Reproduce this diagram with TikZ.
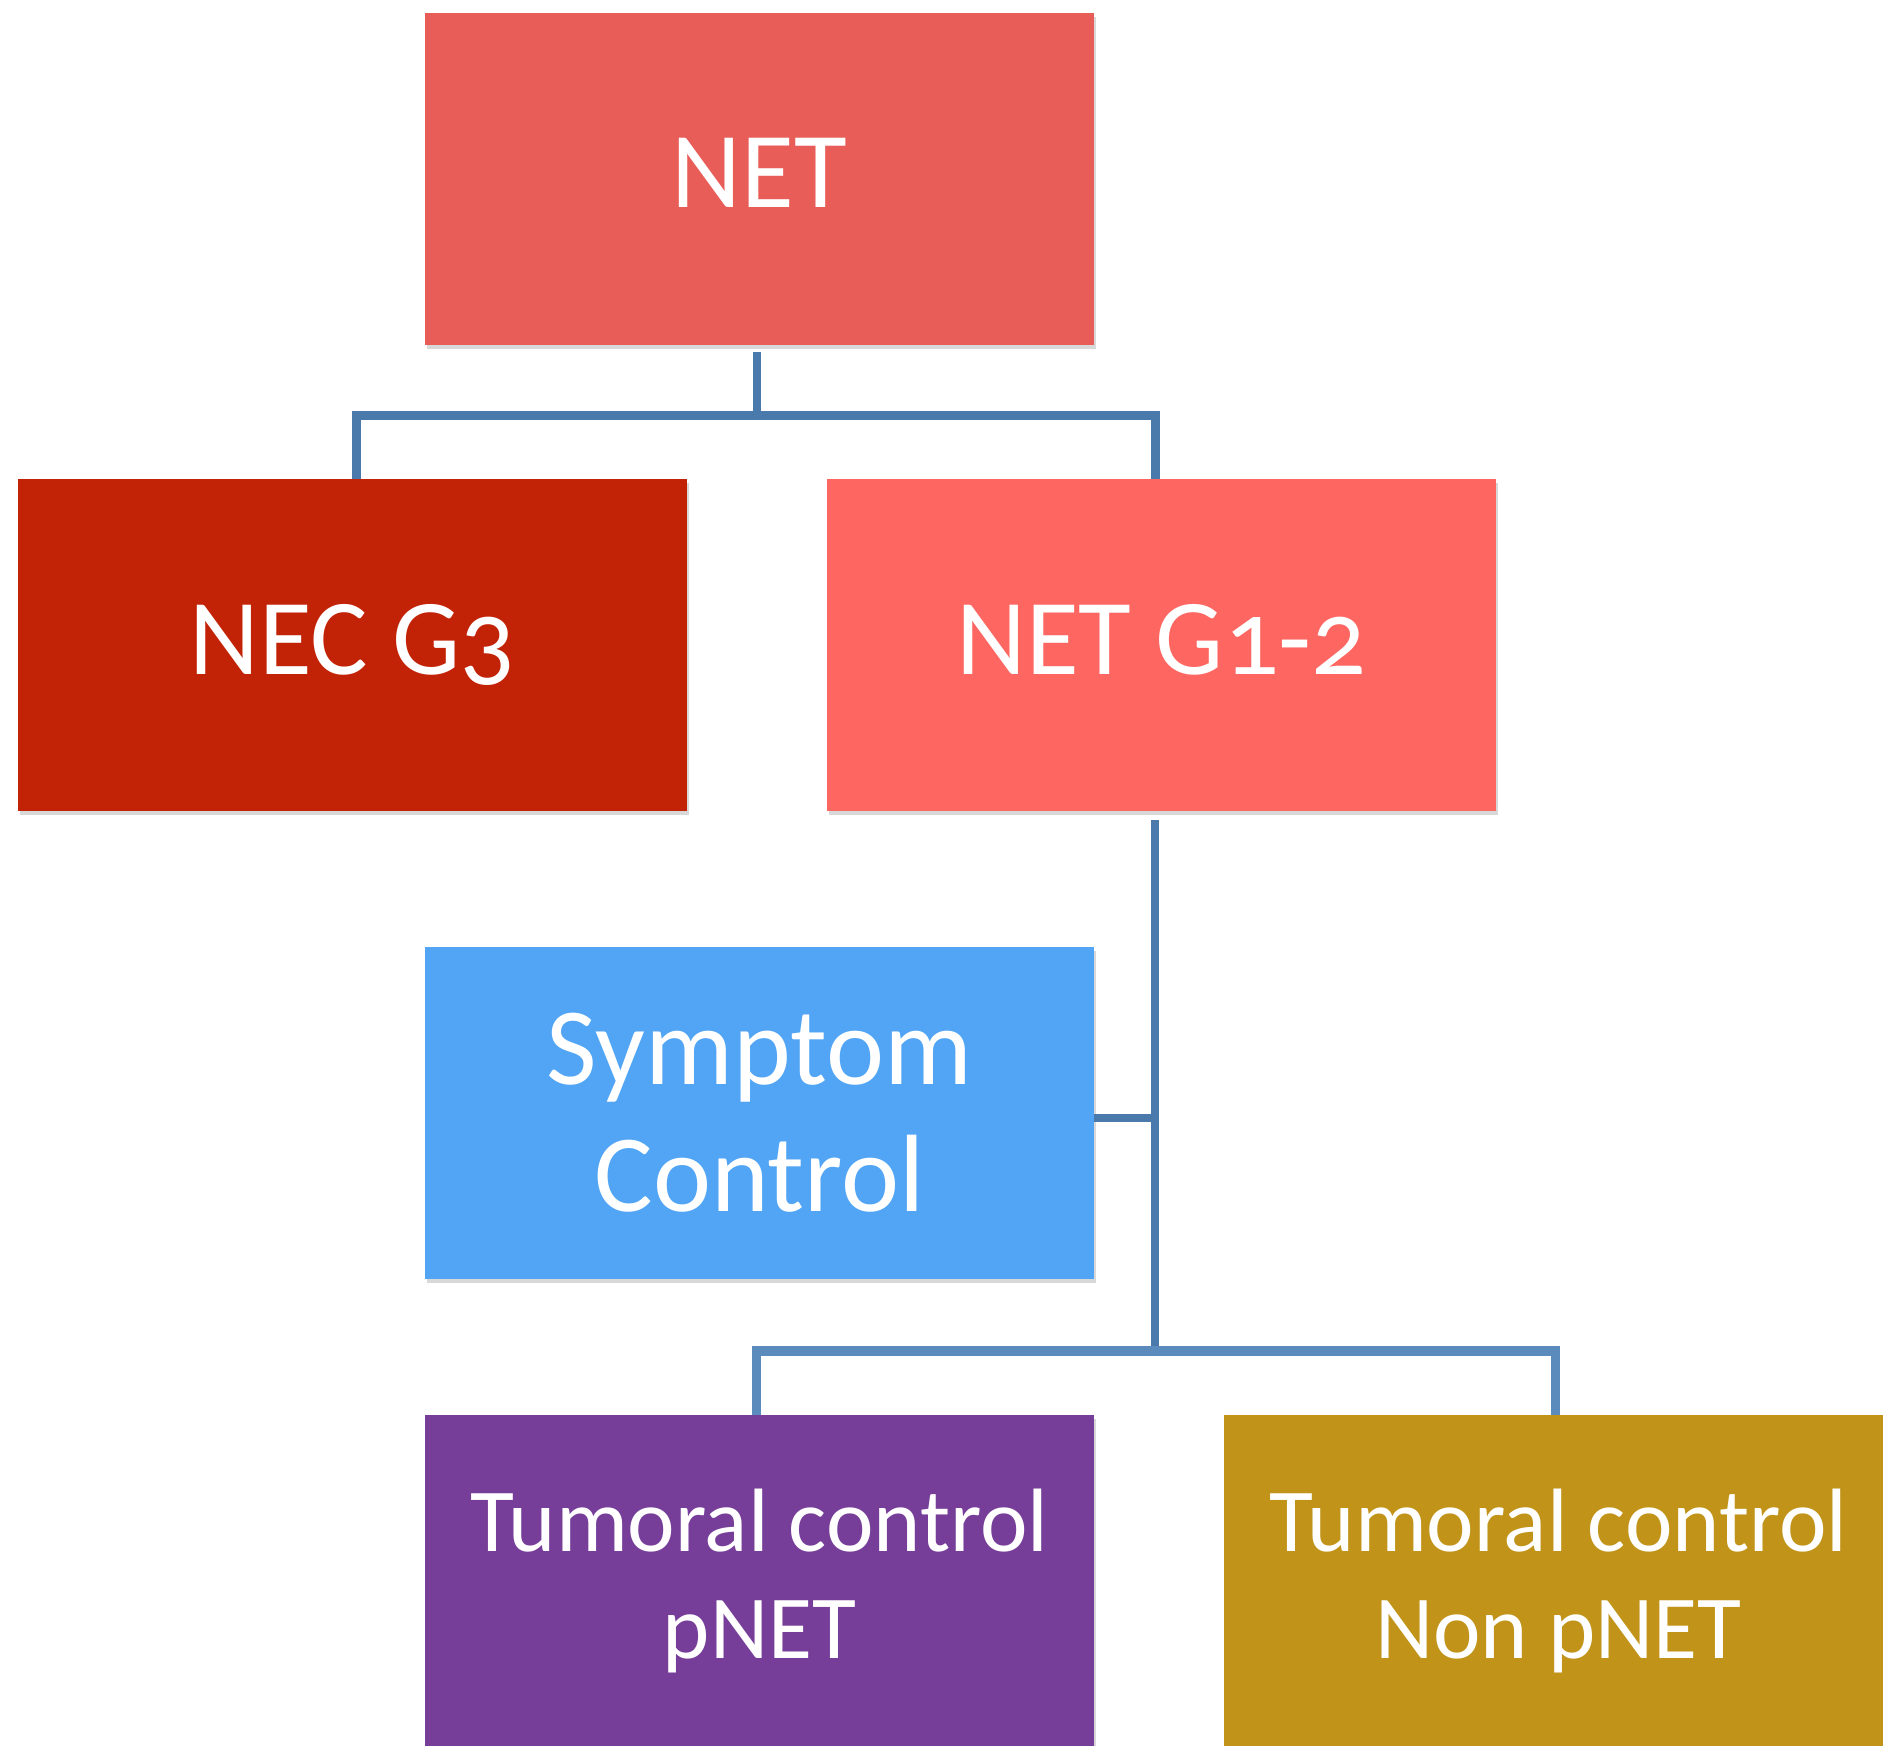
\documentclass[tikz,border=0pt]{standalone}
\usepackage{fontspec}
\setmainfont{Carlito}[Numbers=OldStyle]
\usetikzlibrary{shadows}
\definecolor{cNet}{HTML}{E95D58}
\definecolor{cNec}{HTML}{C22306}
\definecolor{cNetG}{HTML}{FE6662}
\definecolor{cSym}{HTML}{51A5F4}
\definecolor{cPnet}{HTML}{763E98}
\definecolor{cNon}{HTML}{C19419}
\definecolor{cLine}{HTML}{4A7AAB}
\definecolor{cLineB}{HTML}{5B8BBD}
\tikzset{
  box/.style={rectangle, minimum width=334.5pt, minimum height=166pt, inner sep=0pt,
    text=white, align=center,
    drop shadow={opacity=0.3, shadow xshift=1.2pt, shadow yshift=-2pt}},
  bigtext/.style={font=\fontsize{54}{64}\selectfont, text depth=5.5pt},
  midtext/.style={font=\fontsize{55}{63.6}\selectfont},
  smalltext/.style={font=\fontsize{45}{53.5}\selectfont},
  conn/.style={draw=cLine, line width=4.2pt},
  connb/.style={draw=cLineB, line width=4.6pt},
}
\begin{document}
\begin{tikzpicture}[x=0.5pt, y=-0.5pt]
\useasboundingbox[fill=white] (0,0) rectangle (1883,1745);

% boxes
\node[box, bigtext, fill=cNet]  (net)  at (759.5,178.5) {NET};
\node[box, bigtext, fill=cNec]  (nec)  at (352.5,645)   {NEC G3};
\node[box, bigtext, fill=cNetG] (netg) at (1161.5,645)  {NET G1-2};
\node[box, midtext, fill=cSym]  (sym)  at (759.5,1113)  {Symptom\\Control};
\node[box, smalltext, fill=cPnet] (pnet) at (759.5,1581) {Tumoral control\\pNET};
\node[box, smalltext, fill=cNon]  (non)  at (1558.5,1581) {Tumoral control\\Non pNET};

% junction points of the tree
\coordinate (j1) at (757,415.5);
\coordinate (j2) at (1155,1351);

% connectors
\draw[conn] ([yshift=-3.5pt]j1 |- net.south) -- (j1);
\draw[conn] ([xshift=2pt]nec.north) |- (j1) -| ([xshift=-3pt]netg.north);
\draw[conn] ([yshift=-4.5pt]j2 |- netg.south) -- (j2);
\draw[conn] ([yshift=-2.5pt]sym.east) -- ([yshift=-2.5pt]sym.east -| j2);
\draw[connb] ([xshift=-1.5pt]pnet.north) |- (j2) -| ([xshift=-1.5pt]non.north);
\end{tikzpicture}
\end{document}
